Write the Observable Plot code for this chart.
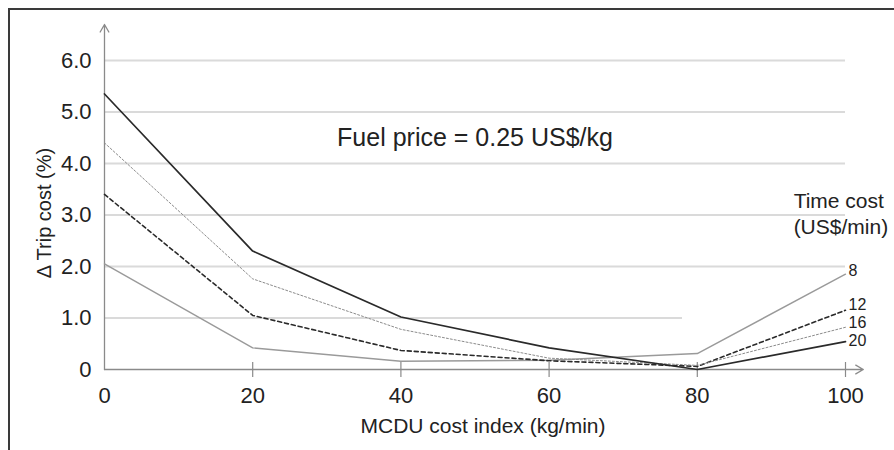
<!DOCTYPE html>
<html>
<head>
<meta charset="utf-8">
<script src="https://cdn.jsdelivr.net/npm/d3@7"></script>
<script src="https://cdn.jsdelivr.net/npm/@observablehq/plot@0.6"></script>
<style>
html, body { margin: 0; padding: 0; background: #fff; }
#wrap { position: relative; width: 894px; height: 450px; overflow: hidden; background: #fff; }
#frame { position: absolute; left: 8px; top: 8px; right: -10px; bottom: -10px;
  border-top: 2px solid #3a3a3a; border-left: 2px solid #3a3a3a; pointer-events: none; }
</style>
</head>
<body>
<div id="wrap"><div id="chart"></div><div id="frame"></div></div>
<script>
// ---- data ----
const costIndex = [0, 20, 40, 60, 80, 100];          // MCDU cost index (kg/min)
const timeCosts = ["8", "12", "16", "20"];            // US$/min
const tripCost8  = [2.05, 0.42, 0.16, 0.18, 0.31, 1.85];
const tripCost12 = [3.40, 1.05, 0.37, 0.17, 0.06, 1.15];
const tripCost16 = [4.40, 1.76, 0.78, 0.22, 0.08, 0.82];
const tripCost20 = [5.35, 2.30, 1.02, 0.42, 0.00, 0.54];
const xTicks = [0, 20, 40, 60, 80, 100];
const yTicks = [0, 1, 2, 3, 4, 5, 6];
const yTickLabels = ["0", "1.0", "2.0", "3.0", "4.0", "5.0", "6.0"];
const xTitle = "MCDU cost index (kg/min)";
const yTitle = "\u0394 Trip cost (%)";
const annotation = "Fuel price = 0.25 US$/kg";
const legendTitle = "Time cost\n(US$/min)";

// ---- build rows ----
const seriesValues = [tripCost8, tripCost12, tripCost16, tripCost20];
const rows = timeCosts.flatMap((tc, k) =>
  costIndex.map((ci, i) => ({ci, v: seriesValues[k][i], tc})));
const byTc = tc => rows.filter(r => r.tc === tc);
const endRow = tc => byTc(tc).at(-1);

const styles = {
  "8":  {stroke: "#9a9a9a", strokeWidth: 1.4},
  "12": {stroke: "#2a2a2a", strokeWidth: 1.6, strokeDasharray: "4,3"},
  "16": {stroke: "#8c8c8c", strokeWidth: 1, strokeDasharray: "2,2"},
  "20": {stroke: "#2a2a2a", strokeWidth: 1.7}
};
// vertical nudges of the end labels so they do not collide
const labelNudge = {"8": -3, "12": -5, "16": -4, "20": -1};

const textColor = "#222";
const axisColor = "#8a8a8a";

const chart = Plot.plot({
  width: 894,
  height: 450,
  marginLeft: 104,
  marginRight: 49,
  marginTop: 60,
  marginBottom: 81,
  x: {domain: [0, 100]},
  y: {domain: [0, 6]},
  style: {fontFamily: "'Liberation Sans', Arial, sans-serif", color: textColor, background: "#fff"},
  marks: [
    // grid lines
    Plot.ruleY(yTicks.filter(d => d > 1), {x1: 0, x2: 100, stroke: "#dadada", strokeWidth: 2}),
    Plot.ruleY(yTicks.filter(d => d === 1), {x1: 0, x2: 78, stroke: "#dadada", strokeWidth: 2}),
    // axis lines with arrow heads
    Plot.arrow([0], {x1: 0, y1: 0, x2: 0, y2: 6.7, stroke: axisColor, strokeWidth: 1.3, headAngle: 60, headLength: 10}),
    Plot.arrow([0], {x1: 0, y1: 0, x2: 102.4, y2: 0, stroke: axisColor, strokeWidth: 1.3, headAngle: 60, headLength: 10}),
    // crossing ticks on x axis
    Plot.ruleX(xTicks.filter(d => d > 0), {y1: 0, y2: 0, insetTop: 8, insetBottom: 7, stroke: axisColor, strokeWidth: 1.2}),
    // axes labels
    Plot.axisX({ticks: xTicks, tickSize: 0, tickPadding: 18, fontSize: 22, label: null, fill: textColor}),
    Plot.axisY({ticks: yTicks, tickSize: 0, tickPadding: 13, fontSize: 22, label: null, fill: textColor,
      tickFormat: d => yTickLabels[yTicks.indexOf(d)]}),
    Plot.text([xTitle], {frameAnchor: "bottom", dy: 63, dx: 8, fontSize: 21, fill: textColor}),
    Plot.text([yTitle], {frameAnchor: "left", textAnchor: "middle", rotate: -90, dx: -60, dy: -2, fontSize: 20, fill: textColor}),
    // series lines
    ...timeCosts.map(tc => Plot.line(byTc(tc), {x: "ci", y: "v", ...styles[tc]})),
    // series labels
    ...timeCosts.map(tc => Plot.text([endRow(tc)], {x: "ci", y: "v", text: "tc", dx: 3, dy: labelNudge[tc],
      textAnchor: "start", fontSize: 16, fill: textColor})),
    // annotations
    Plot.text([annotation], {x: 50, y: 4.5, fontSize: 25, fill: textColor}),
    Plot.text([legendTitle], {x: 93, y: 3.04, textAnchor: "start", lineHeight: 1.22, fontSize: 21, fill: textColor})
  ]
});
document.getElementById("chart").appendChild(chart);
</script>
</body>
</html>
